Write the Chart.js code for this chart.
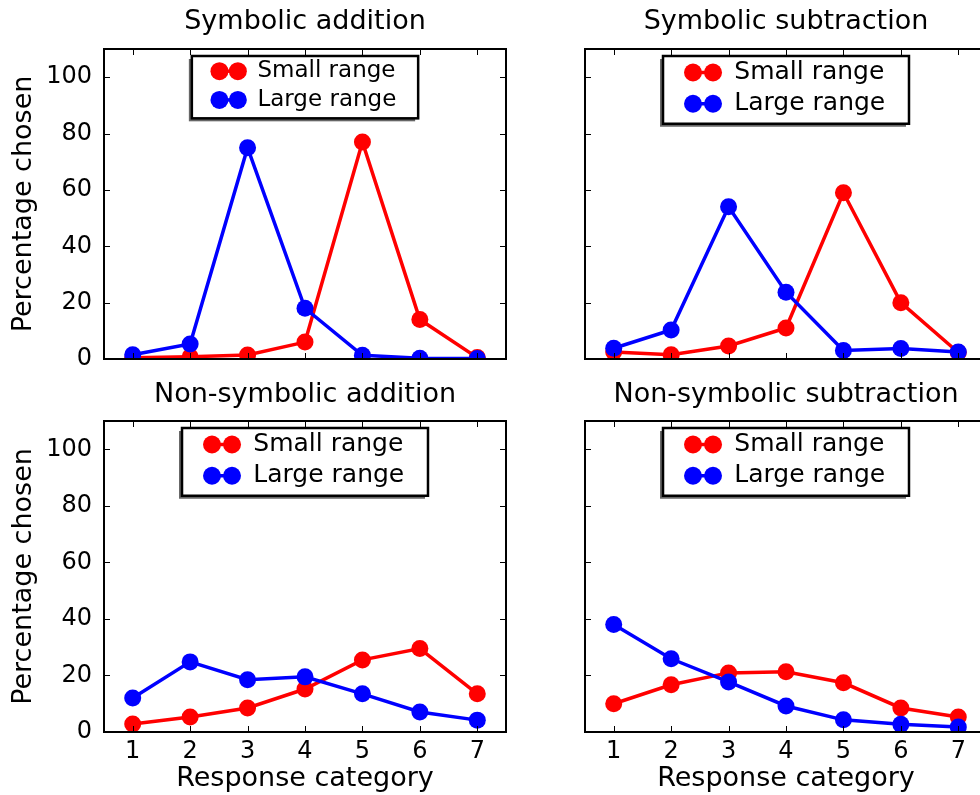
<!DOCTYPE html>
<html>
<head>
<meta charset="utf-8">
<script src="https://cdn.jsdelivr.net/npm/chart.js@4.4.1/dist/chart.umd.min.js"></script>
<style>
  html, body { margin: 0; padding: 0; background: #ffffff; overflow: hidden; width: 980px; height: 795px; }
  #wrap { position: relative; width: 1010px; height: 795px; }
  canvas { position: absolute; }
</style>
</head>
<body>
<div id="wrap">
  <canvas id="c0" width="520" height="375" style="left:0px;top:0px"></canvas>
  <canvas id="c1" width="481" height="375" style="left:520px;top:0px"></canvas>
  <canvas id="c2" width="520" height="422" style="left:0px;top:373px"></canvas>
  <canvas id="c3" width="481" height="422" style="left:520px;top:373px"></canvas>
</div>
<script>
// ---------------- data ----------------
const categories = ['1', '2', '3', '4', '5', '6', '7'];
const seriesLabels = ['Small range', 'Large range'];
const panelTitles = ['Symbolic addition', 'Symbolic subtraction', 'Non-symbolic addition', 'Non-symbolic subtraction'];
const yTickValues = [0, 20, 40, 60, 80, 100];
const yAxisLabel = 'Percentage chosen';
const xAxisLabel = 'Response category';

const symAddSmall = [0.4, 0.8, 1.4, 6.0, 77.0, 14.0, 0.5];
const symAddLarge = [1.5, 5.3, 75.0, 18.0, 1.3, 0.3, 0.2];
const symSubSmall = [2.5, 1.5, 4.6, 11.0, 59.0, 20.0, 2.3];
const symSubLarge = [3.8, 10.3, 54.0, 23.7, 3.0, 3.7, 2.5];
const nonAddSmall = [2.8, 5.3, 8.5, 15.2, 25.5, 29.5, 13.5];
const nonAddLarge = [12.0, 24.8, 18.5, 19.5, 13.5, 7.1, 4.2];
const nonSubSmall = [10.0, 16.7, 20.9, 21.3, 17.4, 8.5, 5.3];
const nonSubLarge = [38.0, 25.9, 17.7, 9.2, 4.3, 2.7, 1.8];

// ---------------- styling ----------------
const FONT = "'DejaVu Sans', 'Liberation Sans', sans-serif";
const RED = '#ff0000';
const BLUE = '#0000ff';

const framePlugin = {
  id: 'mplFrame',
  afterDraw(chart, args, opts) {
    const { ctx, chartArea: a, scales } = chart;
    const x = scales.x, y = scales.y;
    ctx.save();
    // inward tick marks on all four sides
    ctx.strokeStyle = '#000';
    ctx.lineWidth = 1;
    const tl = 6;
    ctx.beginPath();
    for (let i = 0; i < x.ticks.length; i++) {
      const px = Math.round(x.getPixelForTick(i)) + 0.5;
      ctx.moveTo(px, a.bottom); ctx.lineTo(px, a.bottom - tl);
      ctx.moveTo(px, a.top); ctx.lineTo(px, a.top + tl);
    }
    y.ticks.forEach(t => {
      const py = Math.round(y.getPixelForValue(t.value)) + 0.5;
      ctx.moveTo(a.left, py); ctx.lineTo(a.left + tl, py);
      ctx.moveTo(a.right, py); ctx.lineTo(a.right - tl, py);
    });
    ctx.stroke();
    // axes frame
    ctx.lineWidth = 2;
    ctx.strokeRect(a.left, a.top, a.right - a.left, a.bottom - a.top);

    // legend (upper center)
    const fs = opts.fontSize;
    ctx.font = fs + 'px ' + FONT;
    const ds = chart.data.datasets;
    const tw = Math.max(...ds.map(d => ctx.measureText(d.label).width));
    const bw = 2.85 * fs + tw + 0.95 * fs;
    const row1 = 0.66 * fs, rowH = 1.25 * fs;
    const bh = row1 + rowH * (ds.length - 1) + 0.8 * fs;
    const bx = (a.left + a.right) / 2 - bw / 2;
    const by = a.top + 7;
    ctx.fillStyle = 'rgba(0,0,0,0.6)';
    ctx.fillRect(bx - 3, by + 3, bw, bh);
    ctx.fillStyle = '#fff';
    ctx.fillRect(bx, by, bw, bh);
    ctx.lineWidth = 2.5;
    ctx.strokeStyle = '#000';
    ctx.strokeRect(bx, by, bw, bh);
    ds.forEach((d, i) => {
      const ry = by + row1 + i * rowH;
      const x1 = bx + 1.2 * fs, x2 = bx + 2.0 * fs;
      ctx.strokeStyle = d.borderColor;
      ctx.lineWidth = 3.5;
      ctx.beginPath(); ctx.moveTo(x1, ry); ctx.lineTo(x2, ry); ctx.stroke();
      ctx.fillStyle = d.borderColor;
      [x1, x2].forEach(cx => { ctx.beginPath(); ctx.arc(cx, ry, 9, 0, Math.PI * 2); ctx.fill(); });
      ctx.fillStyle = '#000';
      ctx.textBaseline = 'middle';
      ctx.textAlign = 'left';
      ctx.fillText(d.label, bx + 2.85 * fs, ry);
    });
    ctx.restore();
  }
};

function series(label, values, color, order) {
  return {
    label: label,
    data: values,
    borderColor: color,
    backgroundColor: color,
    borderWidth: 3.5,
    pointRadius: 8.5,
    pointHoverRadius: 8.5,
    pointBorderWidth: 0,
    pointBackgroundColor: color,
    tension: 0,
    clip: 0,
    order: order
  };
}

function makePanel(id, cfg) {
  new Chart(document.getElementById(id), {
    type: 'line',
    data: {
      labels: categories,
      datasets: [
        series(seriesLabels[0], cfg.small, RED, 1),
        series(seriesLabels[1], cfg.large, BLUE, 0)
      ]
    },
    options: {
      responsive: false,
      animation: false,
      events: [],
      layout: { padding: { left: 0, right: 14, top: 0, bottom: 0 } },
      plugins: {
        legend: { display: false },
        tooltip: { enabled: false },
        title: {
          display: true,
          text: cfg.title,
          fullSize: false,
          color: '#000',
          font: { family: FONT, size: 27, weight: 'normal' },
          padding: { top: 6, bottom: cfg.titleBottom }
        },
        mplFrame: { fontSize: cfg.legendFs }
      },
      scales: {
        x: {
          type: 'category',
          offset: true,
          grid: { display: false, drawTicks: false, offset: false },
          border: { display: false },
          ticks: {
            display: cfg.showX,
            color: '#000',
            padding: 5,
            maxRotation: 0,
            autoSkip: false,
            font: { family: FONT, size: 24 }
          },
          title: {
            display: cfg.showX,
            text: xAxisLabel,
            color: '#000',
            font: { family: FONT, size: 27 },
            padding: { top: 0, bottom: 0 }
          },
          afterFit(s) { s.height = cfg.xHeight; s.paddingLeft = 0; s.paddingRight = 0; }
        },
        y: {
          type: 'linear',
          min: 0,
          max: 110,
          grid: { display: false, drawTicks: false },
          border: { display: false },
          ticks: {
            display: cfg.showY,
            stepSize: 20,
            includeBounds: false,
            color: '#000',
            padding: 12,
            font: { family: FONT, size: 24 },
            callback: v => (yTickValues.includes(v) ? String(v) : '')
          },
          title: {
            display: cfg.showY,
            text: yAxisLabel,
            color: '#000',
            font: { family: FONT, size: 27 },
            padding: { top: 8, bottom: 0 }
          },
          afterFit(s) { s.width = cfg.yWidth; s.paddingTop = 0; s.paddingBottom = 0; }
        }
      }
    },
    plugins: [framePlugin]
  });
}

makePanel('c0', { title: panelTitles[0], small: symAddSmall, large: symAddLarge, showX: false, showY: true,  xHeight: 16, yWidth: 104, titleBottom: 10.6, legendFs: 23 });
makePanel('c1', { title: panelTitles[1], small: symSubSmall, large: symSubLarge, showX: false, showY: false, xHeight: 16, yWidth: 65,  titleBottom: 10.6, legendFs: 25 });
makePanel('c2', { title: panelTitles[2], small: nonAddSmall, large: nonAddLarge, showX: true,  showY: true,  xHeight: 63, yWidth: 104, titleBottom: 9.6,  legendFs: 25 });
makePanel('c3', { title: panelTitles[3], small: nonSubSmall, large: nonSubLarge, showX: true,  showY: false, xHeight: 63, yWidth: 65,  titleBottom: 9.6,  legendFs: 25 });
</script>
</body>
</html>
